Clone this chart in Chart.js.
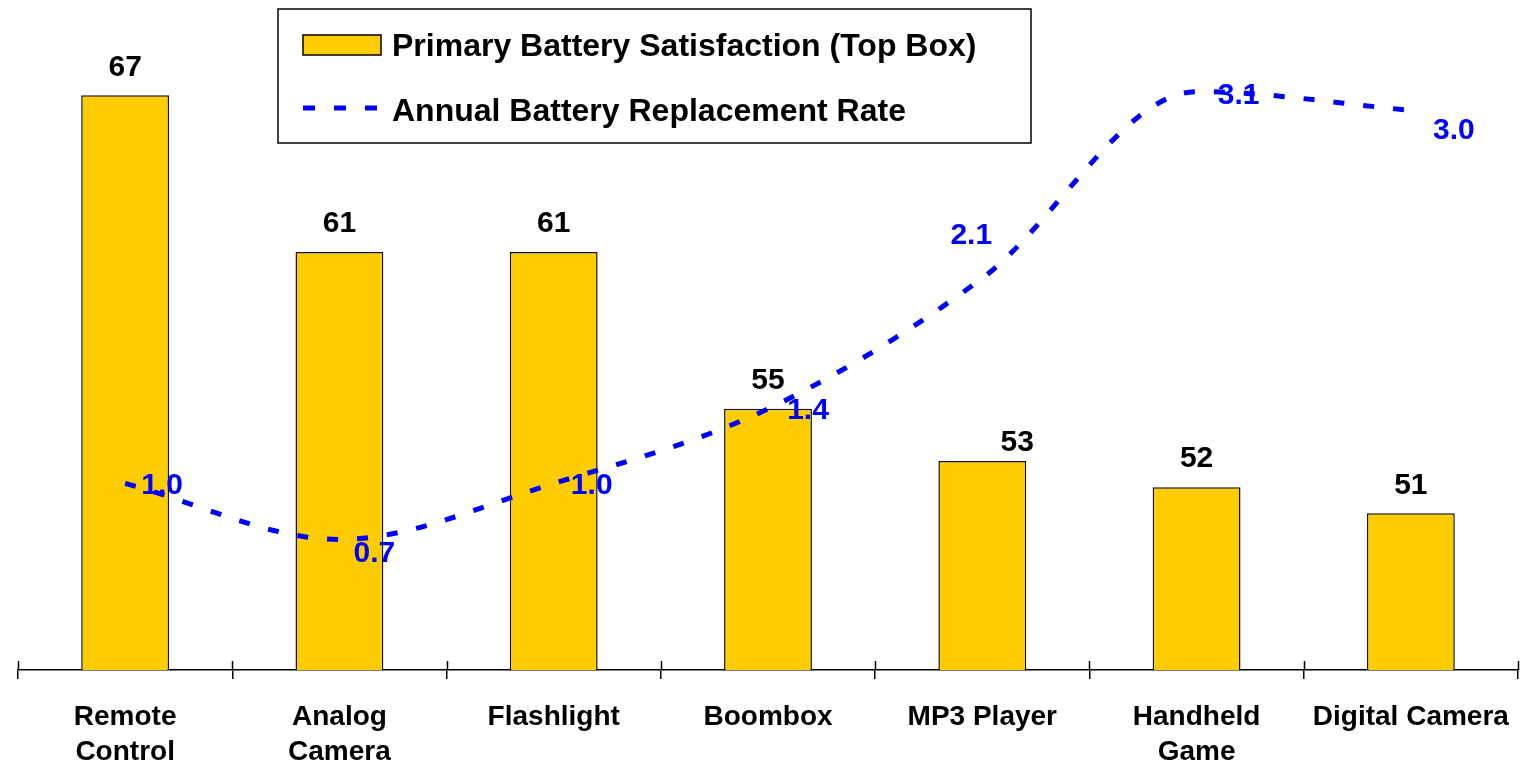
<!DOCTYPE html>
<html>
<head>
<meta charset="utf-8">
<script src="https://cdn.jsdelivr.net/npm/chart.js@4.4.1/dist/chart.umd.min.js"></script>
<style>
  html, body { margin: 0; padding: 0; background: #fff; }
  #wrap { width: 1524px; height: 764px; }
</style>
</head>
<body>
<div id="wrap"><canvas id="chart" width="1524" height="764"></canvas></div>
<script>
// datos del gráfico
const categories = [
    ['Remote', 'Control'],
    ['Analog', 'Camera'],
    'Flashlight',
    'Boombox',
    'MP3 Player',
    ['Handheld', 'Game'],
    'Digital Camera'
];
const satisfaction = [67, 61, 61, 55, 53, 52, 51];
const replacementRate = [1.0, 0.7, 1.0, 1.4, 2.1, 3.1, 3.0];

const satisfactionLabel = 'Primary Battery Satisfaction (Top Box)';
const replacementLabel = 'Annual Battery Replacement Rate';

const GOLD = '#FFCC00';
const BLUE = '#0000FF';
const FONT = "'Liberation Sans', Arial, sans-serif";

// pequeños desplazamientos de las etiquetas (como en el original)
const barLabelNudge = [[0, 2], [0, 2], [0, 2], [0, 2], [35, 12], [0, 2], [0, 2]];
const lineLabelNudge = [[37, 2], [35, 14], [38, 2], [40, 2], [-11, -42], [42, 4], [43, 20]];

// etiquetas de valores sobre barras y puntos
const valueLabels = {
    id: 'valueLabels',
    afterDatasetsDraw(chart) {
        const ctx = chart.ctx;
        ctx.save();
        ctx.textAlign = 'center';
        ctx.textBaseline = 'middle';
        ctx.font = 'bold 30px ' + FONT;

        const barMeta = chart.getDatasetMeta(1);
        ctx.fillStyle = '#000';
        barMeta.data.forEach((bar, i) => {
            const n = barLabelNudge[i];
            ctx.fillText(String(satisfaction[i]), bar.x + n[0], bar.y - 30 + n[1]);
        });

        const lineMeta = chart.getDatasetMeta(0);
        ctx.fillStyle = BLUE;
        lineMeta.data.forEach((pt, i) => {
            const n = lineLabelNudge[i];
            ctx.fillText(replacementRate[i].toFixed(1), pt.x + n[0], pt.y + n[1]);
        });
        ctx.restore();
    }
};

// marcas del eje x hacia arriba + leyenda con recuadro
const axisAndLegend = {
    id: 'axisAndLegend',
    afterDraw(chart) {
        const ctx = chart.ctx;
        const area = chart.chartArea;
        const step = (area.right - area.left) / categories.length;

        ctx.save();
        ctx.strokeStyle = '#000';
        ctx.lineWidth = 1.5;
        for (let i = 0; i <= categories.length; i++) {
            const px = Math.round(area.left + i * step) + 0.5;
            ctx.beginPath();
            ctx.moveTo(px, area.bottom - 9);
            ctx.lineTo(px, area.bottom);
            ctx.stroke();
        }

        // leyenda
        ctx.fillStyle = '#fff';
        ctx.fillRect(278, 9, 753, 134);
        ctx.strokeStyle = '#000';
        ctx.lineWidth = 1.5;
        ctx.strokeRect(278, 9, 753, 134);

        ctx.fillStyle = GOLD;
        ctx.fillRect(303, 35, 78, 20);
        ctx.strokeRect(303, 35, 78, 20);

        ctx.strokeStyle = BLUE;
        ctx.lineWidth = 5;
        ctx.setLineDash([12, 19]);
        ctx.beginPath();
        ctx.moveTo(303, 108);
        ctx.lineTo(381, 108);
        ctx.stroke();
        ctx.setLineDash([]);

        ctx.fillStyle = '#000';
        ctx.font = 'bold 32px ' + FONT;
        ctx.textAlign = 'left';
        ctx.textBaseline = 'middle';
        ctx.fillText(satisfactionLabel, 392, 47);
        ctx.fillText(replacementLabel, 392, 112);
        ctx.restore();
    }
};

new Chart(document.getElementById('chart').getContext('2d'), {
    data: {
        labels: categories,
        datasets: [
            {
                type: 'line',
                label: replacementLabel,
                data: replacementRate,
                yAxisID: 'y1',
                borderColor: BLUE,
                borderWidth: 5,
                borderDash: [11, 19],
                cubicInterpolationMode: 'monotone',
                pointRadius: 0,
                fill: false,
                order: 0
            },
            {
                type: 'bar',
                label: satisfactionLabel,
                data: satisfaction,
                yAxisID: 'y',
                backgroundColor: GOLD,
                borderColor: '#111',
                borderWidth: 1.5,
                barPercentage: 0.41,
                categoryPercentage: 1,
                order: 1
            }
        ]
    },
    options: {
        responsive: false,
        animation: false,
        layout: {
            padding: { left: 18, right: 6, top: 17, bottom: 0 }
        },
        plugins: {
            legend: { display: false },
            tooltip: { enabled: false },
            title: { display: false }
        },
        scales: {
            x: {
                offset: true,
                grid: {
                    display: true,
                    offset: true,
                    drawOnChartArea: false,
                    drawTicks: true,
                    tickLength: 9,
                    color: '#000',
                    lineWidth: 1.5
                },
                border: { display: true, color: '#000', width: 1.5 },
                ticks: {
                    autoSkip: false,
                    maxRotation: 0,
                    minRotation: 0,
                    padding: 21,
                    color: '#000',
                    font: { family: FONT, size: 28, weight: 'bold', lineHeight: 1.25 }
                },
                afterFit: function(scale) {
                    scale.height = 94;
                    scale.paddingLeft = 0;
                    scale.paddingRight = 0;
                }
            },
            y: {
                display: false,
                min: 45,
                max: 70
            },
            y1: {
                display: false,
                position: 'right',
                min: 0,
                max: 3.5
            }
        }
    },
    plugins: [valueLabels, axisAndLegend]
});
</script>
</body>
</html>
